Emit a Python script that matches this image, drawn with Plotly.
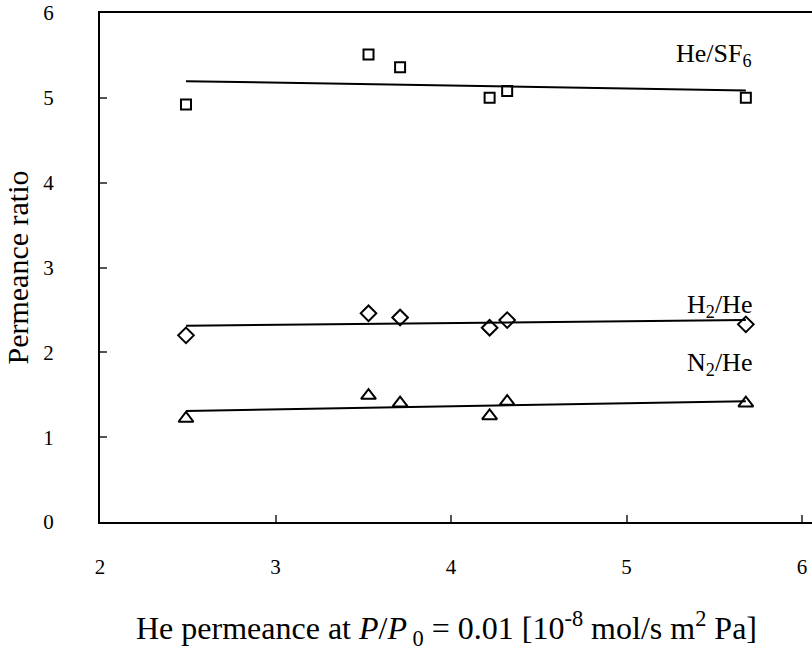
import numpy as np
import plotly.graph_objects as go

# Data
he_perm = [2.49, 3.53, 3.71, 4.22, 4.32, 5.68]
he_sf6 = [4.92, 5.51, 5.36, 5.00, 5.08, 5.00]
h2_he = [2.20, 2.46, 2.41, 2.29, 2.38, 2.33]
n2_he = [1.22, 1.49, 1.40, 1.25, 1.42, 1.40]

series = [
    ("He/SF<sub>6</sub>", he_sf6, "square-open", 10),
    ("H<sub>2</sub>/He", h2_he, "diamond-open", 12),
    ("N<sub>2</sub>/He", n2_he, "triangle-up-open", 13),
]
label_y = [5.5, 2.55, 1.86]

FONT = "Liberation Serif"
fig = go.Figure()
x = np.array(he_perm)
xs = np.array([min(he_perm), max(he_perm)])
for (name, ys, sym, size), ly in zip(series, label_y):
    k, b = np.polyfit(x, np.array(ys), 1)
    fig.add_trace(go.Scatter(x=xs, y=k * xs + b, mode="lines",
                             line=dict(color="black", width=2),
                             showlegend=False, hoverinfo="skip"))
    fig.add_trace(go.Scatter(x=he_perm, y=ys, mode="markers",
                             marker=dict(symbol=sym, size=size, color="black",
                                         line=dict(color="black", width=2)),
                             showlegend=False))
    fig.add_annotation(x=5.68, y=ly, xanchor="right", yanchor="middle",
                       xshift=8, text=name, showarrow=False,
                       font=dict(family=FONT, size=26, color="black"))

# x-axis title as a paper annotation for exact placement
fig.add_annotation(xref="paper", yref="paper", x=0.486, y=-0.21,
                   xanchor="center", yanchor="middle", showarrow=False,
                   text="He permeance at <i>P</i>/<i>P</i><sub> 0</sub> = 0.01 [10<sup>-8</sup> mol/s m<sup>2</sup> Pa]",
                   font=dict(family=FONT, size=32, color="black"))

fig.update_layout(
    width=812, height=650,
    margin=dict(l=100, r=0, t=13, b=128),
    paper_bgcolor="white", plot_bgcolor="white",
    font=dict(family=FONT, color="black", size=21),
    xaxis=dict(range=[2, 6.057], tickvals=[2, 3, 4, 5, 6],
               showline=True, linecolor="black", linewidth=2, mirror=True,
               ticks="inside", ticklen=7, tickcolor="#555", tickwidth=2,
               showgrid=False, zeroline=False,
               tickfont=dict(family=FONT, size=21),
               ticklabelstandoff=25),
    yaxis=dict(range=[0, 6], tickvals=[0, 1, 2, 3, 4, 5, 6],
               showline=True, linecolor="black", linewidth=2,
               ticks="inside", ticklen=7, tickcolor="#555", tickwidth=2,
               showgrid=False, zeroline=False,
               tickfont=dict(family=FONT, size=21),
               ticklabelstandoff=40,
               title=dict(text="Permeance ratio", font=dict(family=FONT, size=30), standoff=6)),
)

fig.write_html("out.html")
